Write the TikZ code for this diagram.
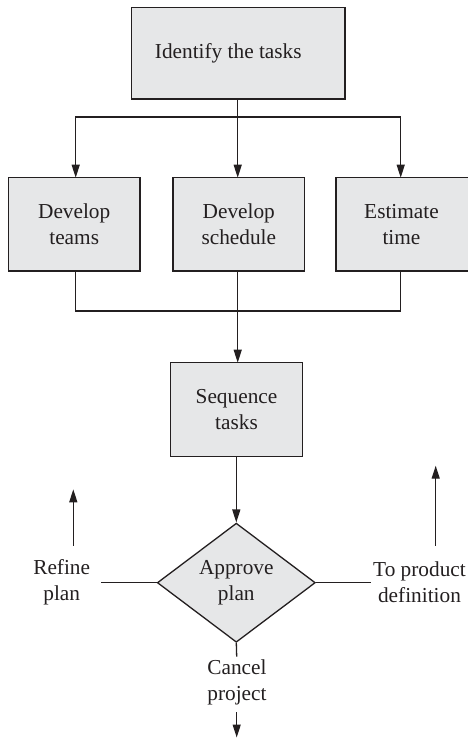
\documentclass[tikz,border=0pt]{standalone}
\usepackage{fontspec}
\setmainfont{Liberation Serif}
\usetikzlibrary{arrows.meta,shapes.geometric}
\definecolor{lc}{HTML}{231F20}
\definecolor{bf}{HTML}{E6E7E8}
\begin{document}
\begin{tikzpicture}[x=1pt,y=-1pt,
  every node/.style={font=\fontsize{21.3}{26}\selectfont, text=lc},
  box/.style={draw=lc, fill=bf, line width=1.3pt, inner sep=0pt, align=center,
              minimum width=131.7pt, minimum height=93.3pt},
  dia/.style={diamond, draw=lc, fill=bf, line width=1.3pt, inner sep=0pt, align=center,
              minimum width=158pt, minimum height=119pt},
  lab/.style={align=center, inner sep=0pt},
  ln/.style={draw=lc, line width=1.3pt},
  arr/.style={ln, -{Triangle[length=13pt,width=8pt]}},
]
\useasboundingbox (0,0) rectangle (467,738);

\node[box, minimum width=213.3pt, minimum height=91.7pt] (top) at (238.3,53.2) {Identify the tasks\hspace{20pt}};
\node[box] (b1) at (74.2,224.3) {Develop\\teams};
\node[box] (b2) at (238.8,224.3) {Develop\\schedule};
\node[box, minimum width=134pt] (b3) at (403,224.3) {\hspace{-3pt}Estimate\\\hspace{-3pt}time};
\node[box, minimum height=93.6pt] (seq) at (236.5,409.5) {Sequence\\tasks};
\node[dia] (dia) at (236.3,582.7) {Approve\\plan};

\node[lab] (refine) at (61.7,582.5) {Refine\\plan};
\node[lab] (prod) at (419.5,582.5) {To product\\definition};
\node[lab] (cancel) at (237,682) {Cancel\\project};

\coordinate (split) at (237.7,117);
\coordinate (b1in) at (75.7,177.7);
\coordinate (b2in) at (237.7,177.7);
\coordinate (b3in) at (400.7,177.7);
\coordinate (b1out) at (75.7,271);
\coordinate (b2out) at (237.7,271);
\coordinate (b3out) at (400.7,271);
\coordinate (join) at (237.7,311);
\coordinate (seqin) at (237.7,362.7);

\draw[ln] (top.south -| split) -- (split);
\draw[arr] (split) -- (b2in);
\draw[arr] (split) -| (b1in);
\draw[arr] (split) -| (b3in);

\draw[ln] (b1out) |- (join);
\draw[ln] (b3out) |- (join);
\draw[ln] (b2out) -- (join);
\draw[arr] (join) -- (seqin);

\draw[arr] (seq.south -| dia.north) -- (dia.north);

\coordinate (lend) at (101,582.7);
\coordinate (rend) at (371,582.7);
\draw[ln] (dia.west) -- (lend);
\draw[ln] (dia.east) -- (rend);

\coordinate (lup0) at (73.3,545.7);
\coordinate (lup1) at (73.3,489.3);
\coordinate (rup0) at (435.7,545.7);
\coordinate (rup1) at (435.7,465.7);
\draw[arr] (lup0) -- (lup1);
\draw[arr] (rup0) -- (rup1);

\coordinate (cbot) at (236.7,656.7);
\draw[ln] (dia.south) -- (cbot);
\coordinate (c0) at (236.7,712.3);
\coordinate (c1) at (236.7,737.5);
\draw[arr] (c0) -- (c1);
\end{tikzpicture}
\end{document}
